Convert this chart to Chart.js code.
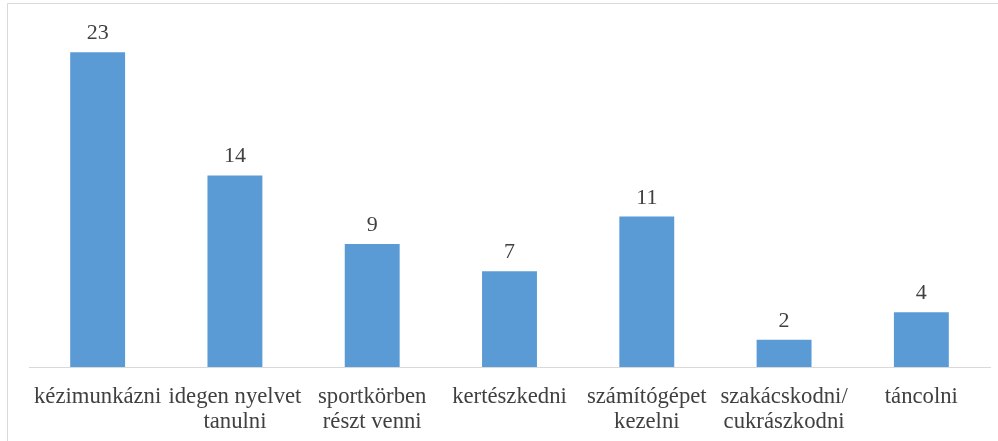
<!DOCTYPE html>
<html>
<head>
<meta charset="utf-8">
<script src="https://cdn.jsdelivr.net/npm/chart.js@4"></script>
<style>
    html, body { margin: 0; padding: 0; background: #ffffff; }
    #wrap { width: 998px; height: 441px; position: relative; }
</style>
</head>
<body>
<div id="wrap"><canvas id="barChart" width="998" height="441"></canvas></div>
<script>
const categories = [
    'kézimunkázni',
    'idegen nyelvet|tanulni',
    'sportkörben|részt venni',
    'kertészkedni',
    'számítógépet|kezelni',
    'szakácskodni/|cukrászkodni',
    'táncolni'
];
const values = [23, 14, 9, 7, 11, 2, 4];

const textColor = '#404040';
const serif = 'Liberation Serif';

// Frame: only top and left edges fall inside the picture
const framePlugin = {
    id: 'frame',
    beforeDraw(chart) {
        const ctx = chart.ctx;
        ctx.save();
        ctx.strokeStyle = '#d9d9d9';
        ctx.lineWidth = 1;
        ctx.beginPath();
        ctx.moveTo(7.5, 441);
        ctx.lineTo(7.5, 3.5);
        ctx.lineTo(998, 3.5);
        ctx.stroke();
        ctx.restore();
    }
};

// Value labels above bars
const valueLabels = {
    id: 'valueLabels',
    afterDatasetsDraw(chart) {
        const ctx = chart.ctx;
        const meta = chart.getDatasetMeta(0);
        ctx.save();
        ctx.font = '22px "' + serif + '", serif';
        ctx.fillStyle = textColor;
        ctx.textAlign = 'center';
        ctx.textBaseline = 'alphabetic';
        meta.data.forEach((bar, i) => {
            ctx.fillText(values[i], bar.x, bar.y - 13);
        });
        ctx.restore();
    }
};

function drawChart() {
    new Chart(document.getElementById('barChart').getContext('2d'), {
        type: 'bar',
        data: {
            labels: categories.map(c => c.split('|')),
            datasets: [{
                data: values,
                backgroundColor: '#5b9bd5',
                categoryPercentage: 1,
                barPercentage: 0.4
            }]
        },
        options: {
            responsive: false,
            animation: false,
            layout: {
                padding: { left: 29, right: 8, top: 25, bottom: 0 }
            },
            plugins: {
                legend: { display: false },
                tooltip: { enabled: false }
            },
            scales: {
                x: {
                    grid: { display: false, drawTicks: false, tickLength: 0 },
                    border: { display: true, color: '#d9d9d9', width: 1 },
                    ticks: {
                        color: textColor,
                        font: { family: serif, size: 22.7, lineHeight: 1.1 },
                        padding: 18,
                        maxRotation: 0,
                        autoSkip: false
                    },
                    afterFit(scale) {
                        scale.height = 74;
                    }
                },
                y: {
                    display: false,
                    min: 0,
                    max: 25
                }
            }
        },
        plugins: [framePlugin, valueLabels]
    });
}

document.fonts.load('22px "' + serif + '"').then(drawChart, drawChart);
</script>
</body>
</html>
